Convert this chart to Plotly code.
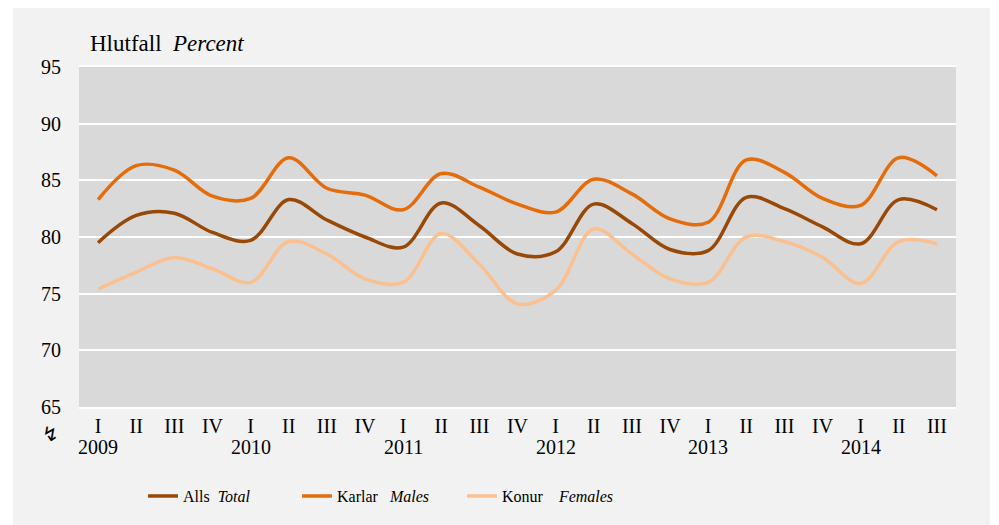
import plotly.graph_objects as go

# quarterly ratio, percent
years = ["2009", "2010", "2011", "2012", "2013", "2014"]
quarters = ["I", "II", "III", "IV"]

total = [79.5, 81.9, 82.1, 80.4, 79.7, 83.3, 81.5, 80.0, 79.1, 83.0, 81.0, 78.5,
         78.7, 82.9, 81.2, 78.9, 78.8, 83.5, 82.5, 80.9, 79.4, 83.3, 82.4]
males = [83.3, 86.3, 85.9, 83.6, 83.4, 87.0, 84.3, 83.7, 82.4, 85.6, 84.4, 82.9,
         82.2, 85.1, 83.8, 81.6, 81.3, 86.8, 85.7, 83.4, 82.8, 87.0, 85.4]
females = [75.4, 76.9, 78.2, 77.2, 76.0, 79.6, 78.5, 76.3, 76.0, 80.3, 77.6, 74.1,
           75.3, 80.7, 78.5, 76.3, 76.0, 80.0, 79.6, 78.2, 75.9, 79.6, 79.4]

n = len(total)
cats = []
qlabels = []
for y in years:
    for q in quarters:
        if len(cats) < n:
            cats.append(f"{y}-{q}")
            qlabels.append(q)

FONT = "Liberation Serif, Times New Roman, DejaVu Serif, serif"

series = [
    ("Alls\u00a0\u00a0<i>Total</i>", total, "#984807", "legend"),
    ("Karlar\u00a0\u00a0\u00a0<i>Males</i>", males, "#e46c0a", "legend2"),
    ("Konur\u00a0\u00a0\u00a0\u00a0<i>Females</i>", females, "#fac090", "legend3"),
]

fig = go.Figure()
for name, vals, color, lg in series:
    fig.add_trace(go.Scatter(
        x=cats, y=vals, name=name, mode="lines", legend=lg, showlegend=True,
        line=dict(color=color, width=3.5, shape="spline", smoothing=1.0),
    ))

leg = dict(orientation="h", yanchor="middle", y=-0.262, xanchor="left",
           bgcolor="rgba(0,0,0,0)", font=dict(family=FONT, size=16, color="black"))

# year labels sit under the first quarter of each year
year_notes = [
    dict(text=y, xref="x", yref="paper", x=f"{y}-I", y=-0.1176,
         xanchor="center", yanchor="middle", showarrow=False,
         font=dict(family=FONT, size=20))
    for y in years
]

fig.update_layout(
    width=991, height=517,
    margin=dict(l=71, r=43, t=59, b=118),
    paper_bgcolor="#f2f2f2",
    plot_bgcolor="#d9d9d9",
    font=dict(family=FONT, size=20, color="black"),
    showlegend=True,
    legend=dict(leg, x=0.073),
    legend2=dict(leg, x=0.2486),
    legend3=dict(leg, x=0.4367),
    xaxis=dict(
        type="category", range=[-0.5, n - 0.5],
        tickvals=cats, ticktext=qlabels,
        showgrid=False, showline=True, linecolor="white", linewidth=2, mirror=True,
        ticks="", tickfont=dict(size=20),
    ),
    yaxis=dict(
        range=[65, 95], dtick=5, showgrid=True, gridcolor="white", gridwidth=2,
        zeroline=False, ticks="", ticklabelstandoff=17, tickfont=dict(size=20),
    ),
    annotations=[
        dict(text="Hlutfall\u00a0\u00a0<i>Percent</i>", xref="paper", yref="paper",
             x=0.01, y=1.068, xanchor="left", yanchor="middle", showarrow=False,
             font=dict(family=FONT, size=23)),
        dict(text="↯", xref="paper", yref="paper", x=-0.033, y=-0.079,
             xanchor="center", yanchor="middle", showarrow=False,
             font=dict(family="DejaVu Sans", size=20)),
    ] + year_notes,
    shapes=[
        # white frame round the grey chart area
        dict(type="rect", xref="paper", yref="paper", x0=-0.1, x1=-0.0753, y0=-0.4, y1=1.3,
             fillcolor="white", line_width=0, layer="below"),
        dict(type="rect", xref="paper", yref="paper", x0=1.0388, x1=1.1, y0=-0.4, y1=1.3,
             fillcolor="white", line_width=0, layer="below"),
    ],
)

fig.write_html("out.html")
